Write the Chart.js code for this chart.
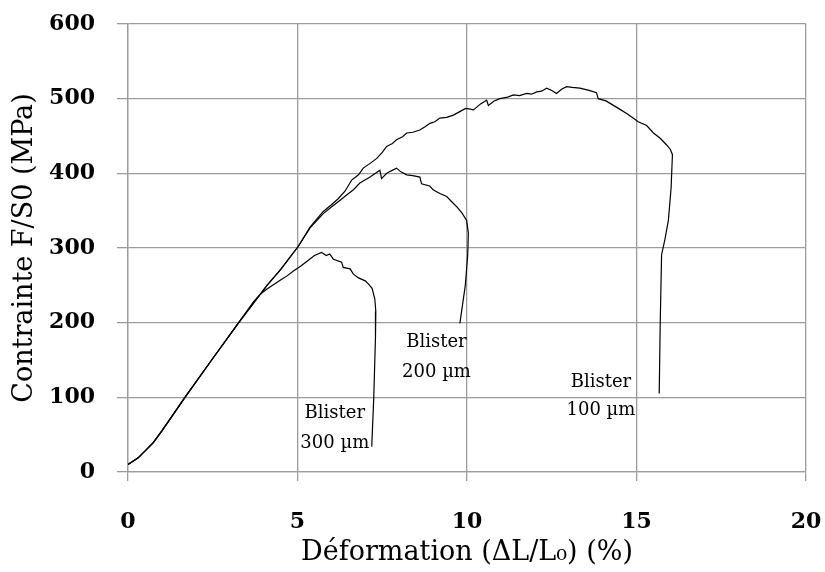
<!DOCTYPE html>
<html>
<head>
<meta charset="utf-8">
<script src="https://cdn.jsdelivr.net/npm/chart.js@4/dist/chart.umd.min.js"></script>
<style>
html,body{margin:0;padding:0;background:#fff;}
canvas{display:block;}
</style>
</head>
<body>
<canvas id="c" width="825" height="572"></canvas>
<script>
// ---- Data (strain %, stress MPa) ----
const xTickLabels = [0, 5, 10, 15, 20];
const yTickLabels = [0, 100, 200, 300, 400, 500, 600];

const strain300 = [0, 0.3, 0.74, 1.0, 1.68, 2.5, 3.25, 3.7, 3.9, 4.1, 4.3, 4.5, 4.7, 4.9, 5.1, 5.3, 5.5, 5.71, 5.85, 5.95, 6.06, 6.3, 6.35, 6.55, 6.65, 6.8, 7.0, 7.09, 7.2, 7.28, 7.31, 7.3, 7.25, 7.19];
const stress300 = [10, 19, 39, 55, 100, 152, 199, 228, 238, 245, 251, 257, 263, 270, 276, 283, 290, 294, 290, 292, 285, 281, 274, 272, 265, 260, 256, 252, 246, 232, 215, 180, 100, 34];

const strain200 = [0, 0.3, 0.74, 1.0, 1.68, 2.5, 3.25, 4.1, 4.5, 5.02, 5.37, 5.76, 6.0, 6.2, 6.45, 6.65, 6.84, 7.14, 7.3, 7.43, 7.48, 7.63, 7.75, 7.92, 8.05, 8.22, 8.4, 8.61, 8.66, 8.9, 9.0, 9.2, 9.4, 9.55, 9.7, 9.85, 9.99, 10.04, 10.02, 9.95, 9.79];
const stress200 = [10, 19, 39, 55, 100, 152, 199, 250, 271, 302, 327, 346, 355, 362, 371, 378, 387, 395, 400, 404, 393, 400, 403, 407, 402, 398, 397, 395, 386, 383, 378, 373, 369, 362, 355, 347, 337, 320, 290, 250, 199];

const strain100 = [0, 0.3, 0.74, 1.0, 1.68, 2.5, 3.25, 4.1, 4.5, 5.02, 5.37, 5.76, 6.0, 6.2, 6.4, 6.6, 6.8, 6.94, 7.1, 7.34, 7.5, 7.63, 7.8, 7.92, 8.1, 8.22, 8.4, 8.61, 8.75, 8.91, 9.05, 9.2, 9.4, 9.6, 9.8, 9.96, 10.1, 10.19, 10.4, 10.58, 10.63, 10.8, 10.97, 11.2, 11.37, 11.55, 11.76, 11.9, 12.06, 12.2, 12.35, 12.5, 12.64, 12.8, 12.94, 13.1, 13.33, 13.6, 13.82, 13.87, 14.1, 14.32, 14.5, 14.71, 14.9, 15.05, 15.3, 15.5, 15.7, 15.89, 16.0, 16.06, 16.02, 15.94, 15.84, 15.74, 15.7, 15.67];
const stress100 = [10, 19, 39, 55, 100, 152, 199, 250, 271, 302, 328, 349, 358, 366, 376, 391, 398, 407, 412, 420, 428, 436, 440, 445, 449, 454, 455, 458, 462, 467, 469, 474, 475, 478, 483, 487, 486, 485, 493, 498, 491, 497, 500, 502, 505, 504, 507, 506, 509, 510, 514, 511, 507, 513, 516, 515, 514, 511, 508, 500, 497, 491, 486, 480, 474, 469, 464, 454, 447, 438, 432, 425, 380, 337, 312, 291, 200, 105];

const labels300 = ['Blister', '300 µm'];
const labels200 = ['Blister', '200 µm'];
const labels100 = ['Blister', '100 µm'];
// annotation anchor positions (data units): [strain, stress line1, stress line2]
const annot300 = [6.1, 78, 38];
const annot200 = [9.1, 173, 133];
const annot100 = [13.95, 120, 83];

function pts(xs, ys) { return xs.map((x, i) => ({x: x, y: ys[i]})); }

const lineStyle = {showLine: true, borderColor: '#000', borderWidth: 1.2, pointRadius: 0, tension: 0, fill: false};

const annotPlugin = {
  id: 'annot',
  afterDatasetsDraw(chart) {
    const ctx = chart.ctx, xs = chart.scales.x, ys = chart.scales.y;
    ctx.save();
    ctx.fillStyle = '#000';
    ctx.font = '18px "DejaVu Serif"';
    ctx.textAlign = 'center';
    ctx.textBaseline = 'middle';
    [[labels300, annot300], [labels200, annot200], [labels100, annot100]].forEach(([lb, a]) => {
      const px = xs.getPixelForValue(a[0]);
      ctx.fillText(lb[0], px, ys.getPixelForValue(a[1]));
      ctx.fillText(lb[1], px, ys.getPixelForValue(a[2]));
    });
    ctx.restore();
  }
};

function noOverflow(s) { s.paddingLeft = 0; s.paddingRight = 0; s.paddingTop = 0; s.paddingBottom = 0; }

const gridColor = '#9c9c9c';
const tickFont = {family: 'DejaVu Serif', weight: 'bold', size: 22};
const titleFont = {family: 'DejaVu Serif', weight: 'normal', size: 27};

new Chart(document.getElementById('c'), {
  type: 'scatter',
  data: {
    datasets: [
      Object.assign({label: '300 µm', data: pts(strain300, stress300)}, lineStyle),
      Object.assign({label: '200 µm', data: pts(strain200, stress200)}, lineStyle),
      Object.assign({label: '100 µm', data: pts(strain100, stress100)}, lineStyle)
    ]
  },
  options: {
    responsive: false,
    animation: false,
    layout: {padding: {top: 24, right: 19, left: 0, bottom: 0}},
    plugins: {legend: {display: false}, tooltip: {enabled: false}},
    scales: {
      x: {
        type: 'linear', min: xTickLabels[0], max: xTickLabels[xTickLabels.length - 1],
        afterBuildTicks(s) { s.ticks = xTickLabels.map(v => ({value: v})); },
        ticks: {color: '#000', font: tickFont, padding: 28, maxRotation: 0},
        grid: {color: gridColor, lineWidth: 1.3, tickLength: 9, tickColor: gridColor},
        border: {color: gridColor, width: 1.3},
        title: {display: true, text: 'Déformation (ΔL/L₀) (%)', color: '#000', font: titleFont, padding: {top: 0, bottom: 3}},
        afterFit(s) { s.height = 100; noOverflow(s); }
      },
      y: {
        type: 'linear', min: yTickLabels[0], max: yTickLabels[yTickLabels.length - 1],
        afterBuildTicks(s) { s.ticks = yTickLabels.map(v => ({value: v})); },
        ticks: {color: '#000', font: tickFont, padding: 22},
        grid: {color: gridColor, lineWidth: 1.3, tickLength: 11, tickColor: gridColor},
        border: {color: gridColor, width: 1.3},
        title: {display: true, text: 'Contrainte F/S0 (MPa)', color: '#000', font: titleFont, padding: {top: 9, bottom: 0}},
        afterFit(s) { s.width = 128; noOverflow(s); }
      }
    }
  },
  plugins: [annotPlugin]
});
</script>
</body>
</html>
